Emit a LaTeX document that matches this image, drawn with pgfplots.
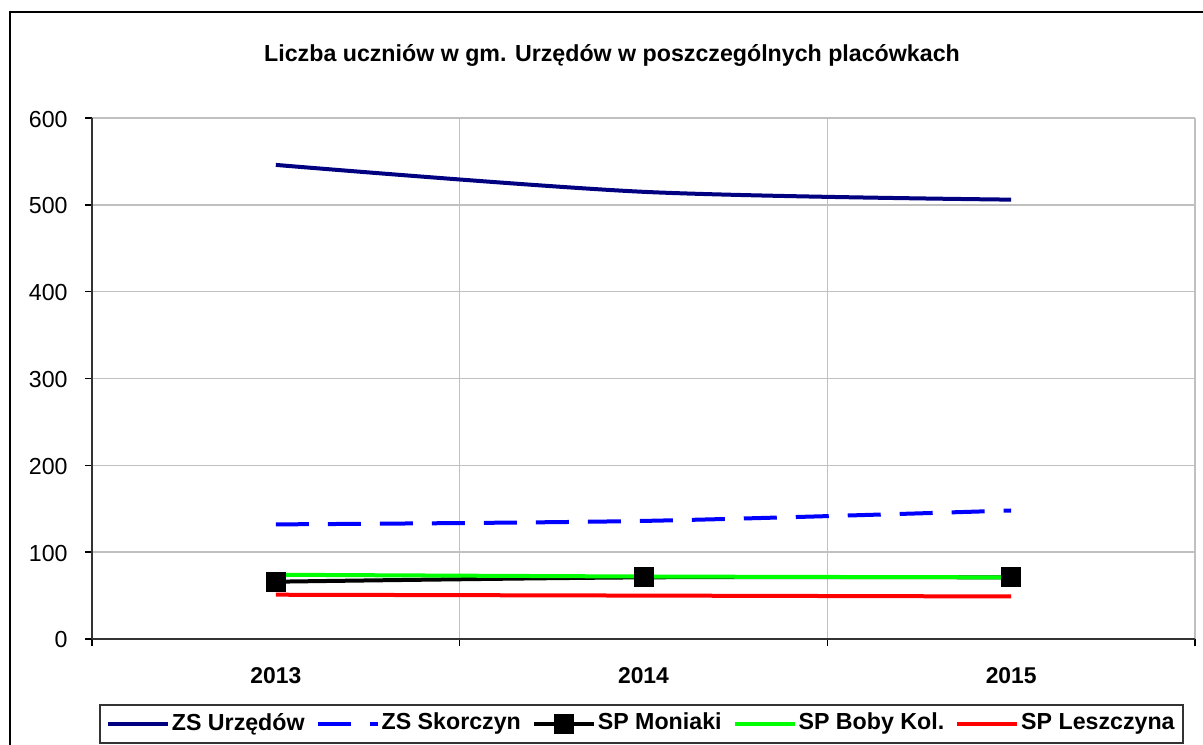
\documentclass[border=0pt]{standalone}
\usepackage{fontspec}
\setmainfont{Liberation Sans}
\usepackage{pgfplots}
\pgfplotsset{compat=1.18}
\definecolor{navyline}{RGB}{0,0,128}
\definecolor{blueline}{RGB}{0,0,255}
\definecolor{greenline}{RGB}{0,255,0}
\definecolor{redline}{RGB}{255,0,0}
\definecolor{gridgray}{RGB}{192,192,192}

\begin{document}
\begin{tikzpicture}[x=0.1mm,y=0.1mm]
\useasboundingbox (0,0) rectangle (1203,744);
\draw[line width=0.2mm] (10,732) rectangle (1400,-100);
\node[font=\bfseries\fontsize{6.6}{7.5}\selectfont] at (612,689) {Liczba uczniów w gm. Urzędów w poszczególnych placówkach};
\begin{axis}[
    at={(9.2mm,10.5mm)}, anchor=south west,
    scale only axis, width=110.3mm, height=52.1mm,
    xmin=-0.5, xmax=2.5, ymin=0, ymax=600,
    axis x line=bottom, axis y line=left,
    axis line style={-, draw=black!80, line width=0.25mm},
    xtick={-0.5,0.5,1.5,2.5}, xticklabels={},
    extra x ticks={0,1,2}, extra x tick labels={2013,2014,2015},
    extra x tick style={grid=none, major tick length=0pt,
        tick label style={font=\bfseries\fontsize{6.5}{7.5}\selectfont, yshift=-1.6mm}},
    ytick={0,100,...,600},
    tick align=outside, major tick length=0.7mm,
    tick style={draw=black, line width=0.15mm},
    grid=major, grid style={draw=gridgray, line width=0.15mm},
    tick label style={font=\fontsize{6.6}{7.5}\selectfont},
    /pgf/number format/assume math mode=true,
    yticklabel style={xshift=-0.5mm, yshift=-0.1mm},
    legend columns=5,
    legend style={at={(0.498,-0.1248)}, anchor=north, draw=black!80, line width=0.2mm,
        font=\bfseries\fontsize{6.6}{7.5}\selectfont, inner sep=0.6mm,
        /tikz/every even column/.append style={column sep=0.9mm},
        nodes={inner sep=0.2mm}},
    legend image post style={line width=0.4mm},
]
\addplot[navyline, line width=0.4mm, smooth] coordinates {(0,546) (1,515) (2,506)};
\addlegendentry{ZS Urzędów}
\addplot[blueline, line width=0.4mm, smooth, dash pattern=on 3.3mm off 1.9mm] coordinates {(0,132) (1,136) (2,148)};
\addlegendentry{ZS Skorczyn}
\addplot[black, line width=0.4mm, smooth, mark=square*, mark size=0.8mm, mark options={solid}] coordinates {(0,66) (1,71) (2,71)};
\addlegendentry{SP Moniaki}
\addplot[greenline, line width=0.4mm, smooth] coordinates {(0,74) (1,72) (2,71)};
\addlegendentry{SP Boby Kol.}
\addplot[redline, line width=0.4mm, smooth] coordinates {(0,51) (1,50) (2,49)};
\addlegendentry{SP Leszczyna}
\addplot[only marks, black, mark=square*, mark size=0.8mm, forget plot] coordinates {(0,66) (1,71) (2,71)};
\end{axis}
\end{tikzpicture}
\end{document}
